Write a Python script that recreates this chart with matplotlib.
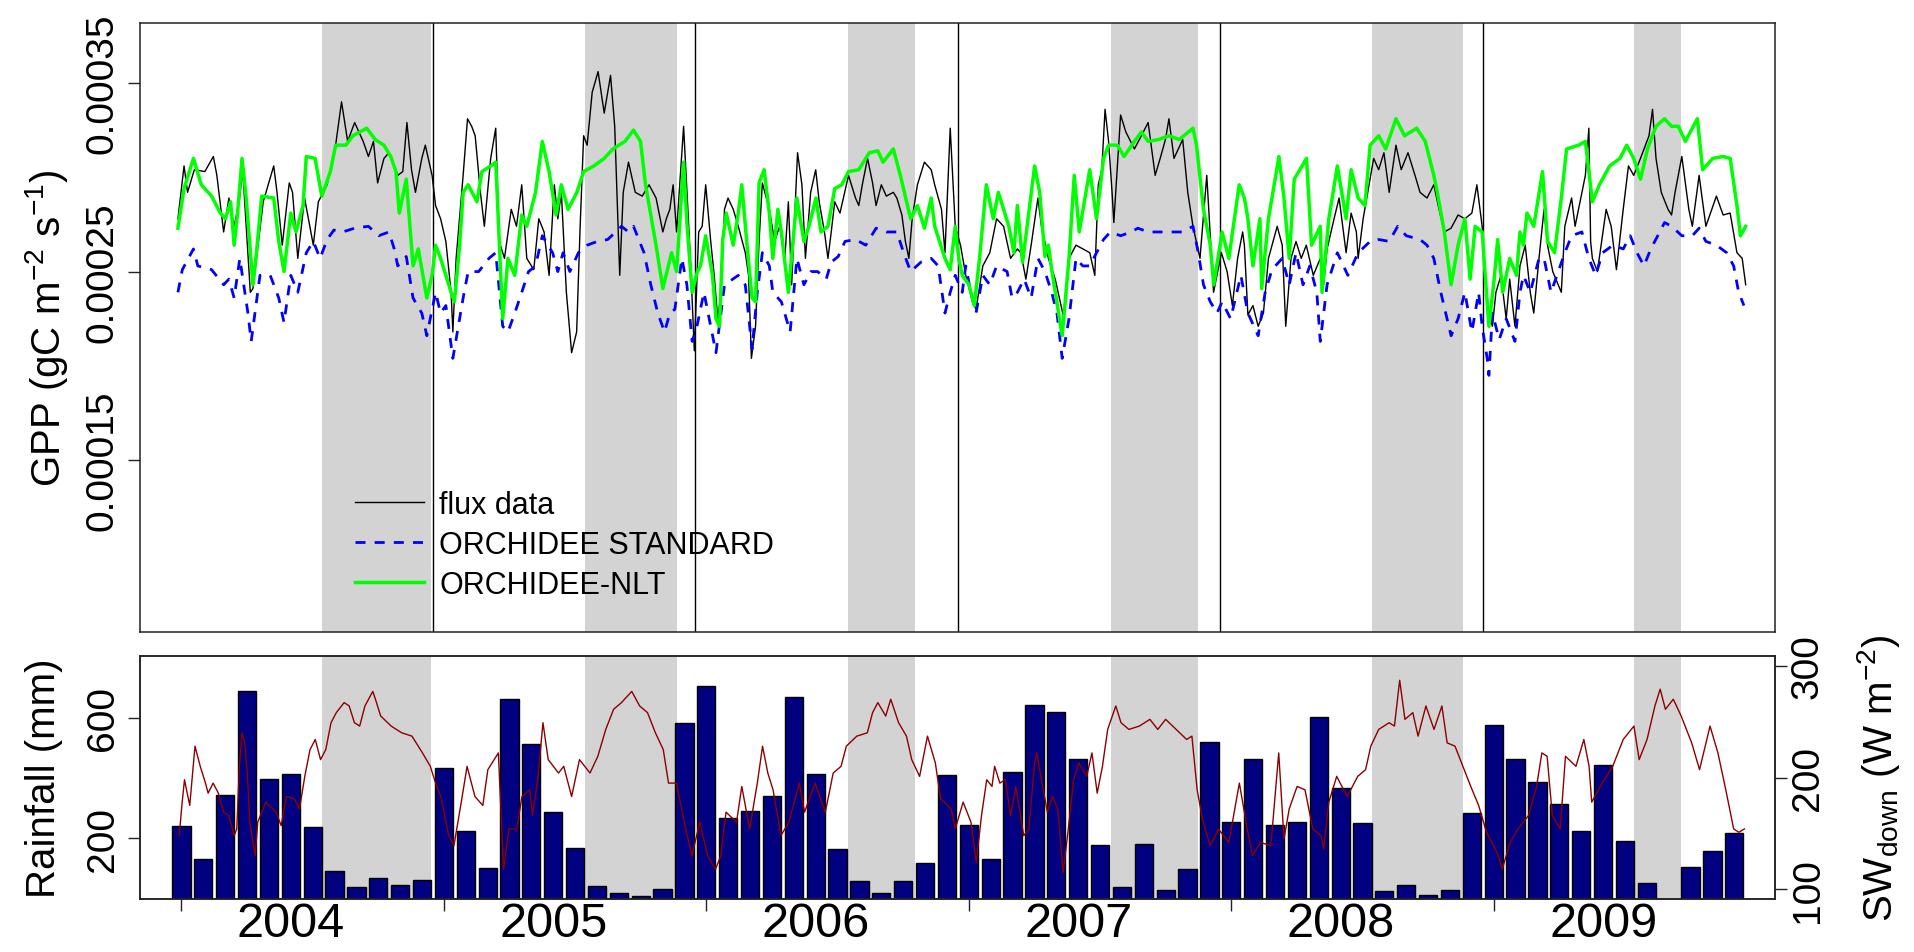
import numpy as np
import matplotlib
matplotlib.use('Agg')
import matplotlib.pyplot as plt
from matplotlib.lines import Line2D

plt.rcParams['font.family'] = ['Liberation Sans', 'DejaVu Sans']
plt.rcParams['mathtext.fontset'] = 'custom'
plt.rcParams['mathtext.rm'] = 'Liberation Sans'
plt.rcParams['mathtext.it'] = 'Liberation Sans:italic'
plt.rcParams['mathtext.bf'] = 'Liberation Sans:bold'

# ---------------- data ----------------
# time = months since 1 Jan 2004 (monthly bar i is centred on i+0.5)
# GPP values in units of 1e-4 gC m-2 s-1
flux_pts = [(0.34,2.78),(0.62,3.06),(0.78,2.92),(1.09,3.04),(1.57,3.03),(1.96,3.11),(2.12,3.01),(2.43,2.71),(2.67,2.89),(2.91,2.74),(3.14,2.87),(3.30,3.04),(3.65,2.39),(3.77,2.41),(3.93,2.57),(4.24,2.87),(4.72,3.06),(4.87,2.92),(5.11,2.64),(5.43,2.97),(5.58,2.92),(5.82,2.57),(6.13,2.89),(6.37,2.74),(6.53,2.64),(6.76,2.87),(7.16,2.96),(7.55,3.17),(7.82,3.40),(8.10,3.19),(8.42,3.29),(8.81,3.19),(9.05,3.11),(9.28,3.19),(9.47,2.97),(9.76,3.10),(9.99,3.13),(10.39,3.01),(10.62,3.03),(10.81,3.29),(11.02,3.04),(11.20,2.92),(11.49,3.10),(11.65,3.17),(11.96,3.01),
             (12.12,2.85),(12.35,2.78),(12.59,2.66),(12.83,2.39),(12.91,2.18),(13.06,2.57),(13.38,3.01),(13.58,3.31),(13.77,3.27),(13.93,3.22),(14.17,2.92),(14.35,2.74),(14.64,3.10),(14.87,3.26),(15.03,2.66),(15.27,2.57),(15.58,2.83),(15.82,2.74),(16.06,2.96),(16.29,2.57),(16.61,2.51),(16.84,2.78),(17.08,2.71),(17.31,2.48),(17.55,2.96),(17.71,2.78),(17.87,2.92),(18.10,2.39),(18.34,2.07),(18.57,2.18),(18.73,2.74),(18.89,3.22),(19.05,3.17),(19.28,3.45),(19.55,3.56),(19.83,3.34),(20.12,3.54),(20.31,3.27),(20.54,2.48),(20.70,2.92),(20.94,3.08),(21.25,2.92),(21.57,2.90),(21.88,2.96),(22.20,2.89),(22.51,2.71),(22.67,2.78),(22.83,2.83),(22.98,2.96),(23.14,2.71),(23.46,3.27),(23.77,2.57),(23.95,2.08),
             (24.15,2.71),(24.31,2.74),(24.47,2.96),(24.70,2.66),(24.86,2.48),(25.02,2.25),(25.17,2.39),(25.33,2.83),(25.49,2.89),(25.73,2.83),(25.96,2.74),(26.28,2.60),(26.43,2.48),(26.56,2.04),(26.75,2.21),(26.91,2.66),(27.06,2.97),(27.38,2.83),(27.62,2.66),(27.85,2.74),(28.09,2.57),(28.25,2.87),(28.40,2.43),(28.67,3.13),(28.87,2.96),(29.03,2.57),(29.27,2.92),(29.50,3.04),(29.66,2.87),(29.90,2.71),(30.06,2.57),(30.21,2.71),(30.37,2.87),(30.61,2.81),(31.00,3.01),(31.32,2.89),(31.47,2.85),(31.63,2.96),(31.87,3.10),(32.10,2.97),(32.26,2.85),(32.50,2.96),(32.73,2.90),(33.05,2.92),(33.21,2.89),(33.44,2.80),(33.60,2.66),(33.76,2.57),(33.91,2.78),(34.15,2.96),(34.47,3.08),(34.78,3.04),(34.94,2.96),(35.25,2.83),(35.41,2.60),(35.65,3.26),(35.88,2.74),
             (36.12,2.64),(36.36,2.48),(36.67,2.34),(36.83,2.30),(37.14,2.53),(37.46,2.60),(37.77,2.78),(38.09,2.74),(38.41,2.57),(38.72,2.62),(38.88,2.60),(39.11,2.46),(39.35,2.64),(39.66,2.89),(39.82,2.74),(40.14,2.57),(40.45,2.46),(40.85,2.25),(41.08,2.57),(41.40,2.64),(41.71,2.62),(42.03,2.60),(42.26,2.48),(42.42,2.96),(42.58,3.04),(42.73,3.36),(42.89,3.19),(43.05,2.92),(43.13,2.76),(43.44,3.33),(43.68,3.24),(44.07,3.15),(44.39,3.22),(44.70,3.29),(45.02,3.01),(45.25,3.10),(45.49,3.20),(45.65,3.31),(45.88,3.10),(46.28,3.20),(46.51,2.92),(46.75,2.74),(47.07,2.57),(47.38,3.01),(47.69,2.39),(48.05,2.60),
             (48.31,2.50),(48.55,2.32),(48.79,2.57),(49.02,2.71),(49.10,2.64),(49.26,2.27),(49.49,2.32),(49.73,2.21),(49.97,2.28),(50.20,2.57),(50.60,2.74),(50.83,2.64),(50.99,2.21),(51.23,2.57),(51.46,2.66),(51.70,2.57),(51.93,2.64),(52.25,2.48),(52.57,2.57),(52.72,2.43),(52.88,2.62),(53.20,2.78),(53.43,2.89),(53.75,2.60),(53.98,2.81),(54.22,2.71),(54.30,2.57),(54.53,2.78),(55.01,3.10),(55.24,3.04),(55.48,3.13),(55.72,2.92),(56.03,3.17),(56.27,3.04),(56.58,3.13),(56.90,3.01),(57.13,2.92),(57.45,2.89),(57.76,2.96),(58.00,2.83),(58.24,2.71),(58.55,2.73),(58.87,2.80),(59.18,2.78),(59.50,2.81),(59.73,2.96),(59.97,2.74),
             (60.20,2.30),(60.44,2.21),(60.60,2.39),(60.83,2.48),(61.07,2.25),(61.23,2.46),(61.47,2.21),(61.70,2.53),(61.94,2.64),(62.17,2.39),(62.33,2.28),(62.57,2.57),(62.80,2.83),(62.96,2.64),(63.20,2.50),(63.59,2.39),(63.75,2.74),(64.06,2.89),(64.22,2.74),(64.69,3.01),(64.85,3.26),(64.93,2.66),(65.01,2.57),(65.24,2.50),(65.64,2.83),(65.87,2.74),(66.11,2.51),(66.42,2.83),(66.66,3.06),(66.90,3.01),(67.21,3.10),(67.60,3.22),(67.76,3.36),(67.92,3.10),(68.16,2.92),(68.47,2.83),(68.63,2.80),(68.79,2.92),(69.10,3.11),(69.42,2.83),(69.58,2.74),(69.89,3.01),(70.20,2.74),(70.68,2.90),(70.99,2.80),(71.31,2.81),(71.62,2.60),(71.86,2.57),(72.02,2.43)]

standard_pts = [(0.34,2.39),(0.54,2.51),(1.05,2.62),(1.25,2.53),(1.88,2.51),(2.43,2.43),(2.67,2.46),(2.91,2.36),(3.17,2.57),(3.54,2.28),(3.69,2.13),(4.09,2.48),(4.56,2.48),(4.95,2.36),(5.19,2.23),(5.50,2.48),(5.82,2.39),(6.21,2.60),(6.53,2.66),(6.84,2.57),(7.16,2.67),(7.47,2.72),(7.87,2.71),(8.42,2.73),(9.05,2.74),(9.52,2.69),(9.99,2.71),(10.23,2.62),(10.39,2.53),(10.78,2.58),(11.09,2.36),(11.49,2.28),(11.72,2.16),
                (12.12,2.39),(12.35,2.28),(12.59,2.32),(12.91,2.04),(13.38,2.36),(13.61,2.50),(14.09,2.50),(14.56,2.57),(14.87,2.60),(15.19,2.21),(15.43,2.18),(15.74,2.28),(16.06,2.39),(16.37,2.50),(16.69,2.53),(17.00,2.69),(17.47,2.60),(17.71,2.50),(17.95,2.60),(18.26,2.50),(18.65,2.60),(19.05,2.64),(19.52,2.66),(19.99,2.67),(20.62,2.74),(20.94,2.71),(21.17,2.74),(21.65,2.60),(21.96,2.43),(22.28,2.28),(22.59,2.18),(22.83,2.28),(23.06,2.30),(23.38,2.57),(23.61,2.43),(23.85,2.13),
                (24.07,2.21),(24.39,2.39),(24.70,2.21),(24.94,2.07),(25.33,2.43),(25.96,2.48),(26.28,2.43),(26.59,2.09),(26.83,2.39),(27.06,2.60),(27.38,2.53),(27.54,2.39),(27.93,2.34),(28.33,2.18),(28.64,2.57),(28.96,2.43),(29.27,2.50),(29.59,2.50),(29.98,2.46),(30.21,2.55),(30.53,2.58),(30.84,2.66),(31.32,2.67),(31.79,2.64),(32.26,2.73),(32.73,2.71),(33.21,2.71),(33.52,2.60),(33.84,2.50),(34.31,2.55),(34.78,2.57),(35.10,2.53),(35.41,2.28),(35.65,2.39),(35.88,2.48),
                (36.20,2.39),(36.36,2.53),(36.59,2.39),(36.83,2.28),(37.14,2.48),(37.46,2.43),(37.77,2.53),(38.25,2.50),(38.48,2.36),(38.72,2.39),(39.03,2.46),(39.35,2.36),(39.66,2.57),(39.98,2.50),(40.29,2.39),(40.53,2.28),(40.77,2.04),(41.08,2.25),(41.40,2.57),(41.71,2.53),(42.03,2.53),(42.34,2.60),(42.66,2.67),(42.97,2.71),(43.44,2.69),(43.92,2.71),(44.23,2.73),(44.70,2.71),(45.33,2.71),(45.80,2.71),(46.28,2.71),(46.75,2.74),(46.99,2.60),(47.23,2.43),(47.54,2.34),(47.85,2.28),
                (48.08,2.34),(48.47,2.25),(48.94,2.48),(49.26,2.28),(49.73,2.16),(50.05,2.39),(50.36,2.51),(50.83,2.57),(51.15,2.43),(51.46,2.60),(51.78,2.43),(52.09,2.53),(52.41,2.39),(52.57,2.13),(52.88,2.43),(53.35,2.60),(53.83,2.48),(54.30,2.60),(54.85,2.66),(55.24,2.67),(55.72,2.66),(56.11,2.74),(56.50,2.69),(57.13,2.67),(57.45,2.64),(57.76,2.57),(58.08,2.39),(58.55,2.16),(58.87,2.25),(59.18,2.39),(59.50,2.18),(59.81,2.39),(59.97,2.21),
                (60.20,2.04),(60.28,1.95),(60.44,2.28),(60.75,2.14),(61.07,2.25),(61.47,2.13),(61.70,2.39),(61.86,2.48),(62.17,2.39),(62.57,2.57),(62.80,2.57),(63.12,2.39),(63.75,2.60),(64.06,2.69),(64.53,2.71),(64.85,2.57),(65.16,2.48),(65.48,2.60),(65.95,2.64),(66.42,2.62),(66.74,2.69),(67.05,2.60),(67.37,2.53),(67.68,2.62),(68.00,2.69),(68.31,2.76),(68.63,2.74),(69.10,2.69),(69.58,2.69),(69.89,2.73),(70.20,2.66),(70.68,2.64),(71.15,2.60),(71.47,2.53),(71.70,2.39),(71.94,2.32)]

nlt_pts = [(0.34,2.73),(0.62,2.94),(1.05,3.10),(1.41,2.96),(1.88,2.90),(2.28,2.81),(2.51,2.78),(2.75,2.87),(2.91,2.64),(3.06,2.80),(3.27,3.10),(3.46,2.89),(3.77,2.43),(3.93,2.60),(4.17,2.90),(4.72,2.89),(4.95,2.66),(5.19,2.50),(5.50,2.81),(5.74,2.71),(6.06,2.85),(6.21,3.11),(6.61,3.10),(6.92,2.90),(7.31,3.03),(7.55,3.17),(8.02,3.17),(8.34,3.22),(8.97,3.26),(9.36,3.20),(9.76,3.17),(10.07,3.11),(10.31,3.03),(10.46,2.81),(10.78,2.99),(11.09,2.53),(11.33,2.62),(11.72,2.36),(11.96,2.48),
           (12.12,2.64),(12.35,2.57),(12.83,2.39),(12.98,2.34),(13.22,2.64),(13.38,2.92),(13.61,2.96),(14.01,2.87),(14.24,3.03),(14.64,3.06),(14.87,3.08),(15.03,2.66),(15.19,2.25),(15.43,2.57),(15.74,2.48),(16.06,2.80),(16.29,2.74),(16.69,2.92),(17.00,3.19),(17.31,3.03),(17.63,2.80),(17.87,2.96),(18.18,2.83),(18.58,2.92),(18.89,3.03),(19.36,3.06),(19.83,3.10),(20.23,3.15),(20.78,3.19),(21.17,3.25),(21.49,3.19),(21.72,2.96),(22.20,2.64),(22.51,2.41),(22.91,2.60),(23.14,2.50),(23.46,3.08),(23.61,2.76),(23.85,2.39),
           (24.09,2.50),(24.23,2.53),(24.47,2.69),(24.78,2.48),(24.94,2.25),(25.10,2.21),(25.25,2.67),(25.41,2.81),(25.73,2.64),(25.96,2.81),(26.12,2.96),(26.36,2.64),(26.59,2.36),(26.75,2.34),(26.91,2.97),(27.14,3.04),(27.38,2.81),(27.54,2.57),(27.77,2.83),(27.93,2.71),(28.25,2.39),(28.64,2.89),(28.96,2.66),(29.19,2.74),(29.51,2.89),(29.74,2.71),(30.06,2.74),(30.37,2.94),(30.69,2.96),(31.00,3.03),(31.47,3.04),(31.95,3.13),(32.34,3.14),(32.58,3.08),(33.05,3.15),(33.37,3.01),(33.84,2.78),(34.15,2.85),(34.47,2.73),(34.78,2.89),(34.94,2.74),(35.41,2.57),(35.65,2.51),(35.88,2.74),
           (36.04,2.57),(36.20,2.48),(36.51,2.43),(36.75,2.32),(36.99,2.57),(37.30,2.96),(37.62,2.78),(37.85,2.92),(38.09,2.83),(38.33,2.74),(38.56,2.60),(38.72,2.85),(38.96,2.55),(39.51,3.06),(39.74,2.92),(39.98,2.58),(40.14,2.64),(40.29,2.51),(40.77,2.16),(41.08,2.57),(41.32,3.01),(41.55,2.71),(42.03,3.04),(42.34,2.78),(42.66,3.10),(42.89,3.17),(43.29,3.17),(43.60,3.11),(44.07,3.19),(44.39,3.24),(44.70,3.19),(45.17,3.20),(45.65,3.22),(46.12,3.20),(46.75,3.26),(46.91,3.17),(47.23,2.83),(47.54,2.64),(47.70,2.43),
           (48.08,2.71),(48.39,2.57),(48.86,2.96),(49.10,2.89),(49.26,2.78),(49.49,2.53),(49.81,2.78),(49.89,2.41),(50.20,2.78),(50.68,3.11),(50.91,2.89),(51.15,2.57),(51.38,2.99),(51.94,3.10),(52.17,2.64),(52.57,2.74),(52.65,2.39),(52.96,2.78),(53.35,3.06),(53.75,2.78),(53.98,3.04),(54.30,2.89),(54.61,2.85),(54.85,3.17),(55.24,3.22),(55.56,3.15),(56.03,3.31),(56.42,3.22),(56.98,3.26),(57.37,3.19),(57.76,3.01),(57.92,2.92),(58.24,2.71),(58.55,2.43),(58.87,2.64),(59.18,2.78),(59.42,2.46),(59.65,2.74),(59.97,2.71),
           (60.28,2.21),(60.52,2.46),(60.68,2.67),(60.91,2.39),(61.23,2.57),(61.54,2.48),(61.70,2.71),(61.86,2.64),(62.02,2.81),(62.33,2.74),(62.73,3.03),(62.96,2.66),(63.28,2.60),(63.59,2.89),(63.83,3.15),(64.38,3.17),(64.69,3.19),(65.01,2.87),(65.33,2.96),(65.80,3.06),(66.27,3.10),(66.58,3.17),(66.90,3.10),(67.21,2.99),(67.53,3.15),(67.92,3.27),(68.31,3.31),(68.63,3.27),(68.94,3.27),(69.26,3.19),(69.81,3.31),(70.05,3.04),(70.52,3.10),(70.99,3.11),(71.31,3.10),(71.62,2.85),(71.78,2.69),(72.02,2.74)]

# shortwave downward radiation (W m-2)
sw_pts = [(0.40,148),(0.52,175),(0.64,198),(0.88,175),(1.12,228),(1.36,210),(1.60,195),(1.72,186),(1.95,195),(2.19,186),(2.43,169),(2.67,166),(2.91,148),(3.03,154),(3.15,210),(3.27,240),(3.39,231),(3.51,204),(3.63,160),(3.87,130),(3.99,160),(4.35,178),(4.83,169),(5.06,157),(5.30,183),(5.66,181),(5.90,172),(6.14,201),(6.38,225),(6.62,234),(6.86,216),(7.10,225),(7.34,249),(7.58,258),(7.94,267),(8.17,264),(8.41,249),(8.65,246),(8.89,264),(9.25,277),(9.37,270),(9.61,255),(10.09,246),(10.57,240),(11.04,237),(11.52,222),(11.88,210),
          (12.12,195),(12.36,183),(12.72,148),(12.96,139),(13.32,181),(13.56,210),(13.92,183),(14.28,175),(14.51,207),(14.99,222),(15.23,118),(15.47,154),(15.83,154),(16.07,183),(16.43,189),(16.55,166),(16.79,198),(17.03,249),(17.27,216),(17.74,204),(17.98,210),(18.34,183),(18.70,216),(19.18,204),(19.54,219),(19.90,243),(20.26,261),(20.62,267),(21.09,277),(21.45,264),(21.81,258),(22.17,240),(22.53,225),(22.77,195),(23.13,195),(23.49,160),(23.84,130),
          (24.20,160),(24.56,130),(24.92,118),(25.16,130),(25.40,169),(25.88,160),(26.12,192),(26.48,154),(26.83,195),(27.07,228),(27.31,204),(27.55,189),(27.91,148),(28.27,160),(28.75,195),(28.99,169),(29.47,195),(29.94,169),(30.30,204),(30.66,210),(30.90,228),(31.38,237),(31.86,240),(32.10,258),(32.34,267),(32.70,255),(32.93,270),(33.29,249),(33.65,237),(33.89,216),(34.25,201),(34.61,237),(34.97,213),(35.21,181),(35.69,172),
          (35.88,154),(36.24,178),(36.60,160),(36.84,124),(37.08,166),(37.32,198),(37.56,192),(37.68,210),(37.92,195),(38.17,198),(38.41,166),(38.65,192),(39.01,148),(39.25,154),(39.49,210),(39.61,222),(39.85,195),(40.09,169),(40.33,183),(40.57,172),(40.81,115),(41.05,154),(41.29,198),(41.53,213),(41.89,201),(42.13,222),(42.37,186),(42.61,210),(42.85,243),(43.22,264),(43.46,249),(43.82,243),(44.30,246),(44.78,252),(45.14,243),(45.50,252),(45.98,243),(46.46,234),(46.70,237),(46.94,189),(47.18,163),(47.54,139),(47.91,154),
          (48.39,142),(48.87,195),(49.23,154),(49.47,130),(49.83,142),(50.31,139),(50.67,222),(50.91,145),(51.15,172),(51.51,192),(51.87,189),(52.23,154),(52.60,148),(52.72,136),(52.96,178),(53.32,201),(53.80,183),(54.28,201),(54.64,207),(54.88,228),(55.24,243),(55.72,249),(55.96,246),(56.20,287),(56.44,252),(56.80,258),(57.04,237),(57.40,264),(57.77,243),(58.13,264),(58.37,231),(58.73,228),(59.09,210),(59.45,192),(59.81,175),
          (60.17,151),(60.65,133),(60.89,118),(61.25,142),(61.61,154),(62.09,166),(62.46,192),(62.70,222),(62.94,219),(63.18,166),(63.54,154),(63.78,219),(64.26,210),(64.62,234),(64.86,210),(64.98,178),(65.46,195),(65.94,210),(66.42,234),(66.91,246),(67.15,216),(67.51,234),(67.87,264),(68.11,279),(68.35,261),(68.71,270),(69.07,255),(69.55,231),(69.91,207),(70.39,246),(70.75,222),(71.11,189),(71.47,154),(71.71,151),(71.96,154)]

# monthly rainfall (mm), Jan 2004 - Dec 2009 (Sep 2009 missing)
rain_mm = [241, 132, 344, 689, 395, 412, 237, 92, 38, 68, 46, 63,
           432, 225, 101, 663, 514, 288, 169, 42, 20, 9, 33, 581,
           704, 267, 289, 340, 667, 412, 166, 58, 20, 58, 119, 409,
           245, 132, 421, 642, 617, 463, 178, 37, 181, 29, 98, 518,
           255, 463, 245, 255, 603, 365, 251, 25, 46, 12, 29, 285,
           574, 462, 387, 314, 225, 442, 192, 51, np.nan, 106, 157, 216]

years = ['2004', '2005', '2006', '2007', '2008', '2009']
dry_seasons = [(6.95, 11.93), (18.93, 23.17), (30.99, 34.03),
               (43.0, 47.0), (54.93, 59.08), (66.92, 69.08)]
year_breaks = [12, 24, 36, 48, 60]

# ---------------- figure ----------------
W, H = 1915, 953
fig = plt.figure(figsize=(W / 100, H / 100), dpi=100)

def ax_rect(x0, y0, x1, y1):
    return [x0 / W, 1 - y1 / H, (x1 - x0) / W, (y1 - y0) / H]

ax1 = fig.add_axes(ax_rect(140, 24.3, 1775, 633.3))
ax2 = fig.add_axes(ax_rect(140, 657.3, 1775, 899.6))

xlim = (-1.394, 73.36)
grey = '#D3D3D3'
frame_col = '#222222'

def split(pts, scale=1.0):
    tt, vv = zip(*pts)
    return np.array(tt), np.array(vv) * scale

# --- top panel
for a, b in dry_seasons:
    ax1.axvspan(a, b, color=grey, lw=0, zorder=0)
for xb in year_breaks:
    ax1.axvline(xb, color='black', lw=1.0, zorder=1)

tf, vf = split(flux_pts, 1e-4)
ts, vs = split(standard_pts, 1e-4)
tn, vn = split(nlt_pts, 1e-4)
ax1.plot(tf, vf, color='black', lw=1.0, zorder=3)
ax1.plot(ts, vs, color='#0000FF', lw=2.0, dashes=(3.6, 3.3), zorder=4)
ax1.plot(tn, vn, color='#00FF00', lw=2.5, zorder=5)

ax1.set_xlim(*xlim)
ax1.set_ylim(0.0000588, 0.0003816)
ax1.set_yticks([0.00015, 0.00025, 0.00035])
ax1.set_yticklabels(['0.00015', '0.00025', '0.00035'], rotation=90, va='center')
ax1.tick_params(axis='y', length=8.8, width=1.0, labelsize=28, pad=5, color=frame_col)
ax1.tick_params(axis='x', bottom=False, labelbottom=False)
for s in ax1.spines.values():
    s.set_linewidth(1.1)
    s.set_color(frame_col)

handles = [Line2D([], [], color='black', lw=1.0),
           Line2D([], [], color='#0000FF', lw=2.0, dashes=(3.6, 3.3)),
           Line2D([], [], color='#00FF00', lw=2.5)]
labels = ['flux data', 'ORCHIDEE STANDARD', 'ORCHIDEE-NLT']
ax1.legend(handles, labels, loc='center left', bbox_to_anchor=(0.1315, 0.1433),
           frameon=False, fontsize=22, handlelength=2.25, handletextpad=0.5,
           labelspacing=0.33, borderpad=0, borderaxespad=0)

# --- bottom panel
for a, b in dry_seasons:
    ax2.axvspan(a, b, color=grey, lw=0, zorder=0)
months = np.arange(len(rain_mm)) + 0.5
ax2.bar(months, rain_mm, width=0.833, color='#000080', edgecolor='black',
        linewidth=1.0, zorder=2)
ax2.set_xlim(*xlim)
ax2.set_ylim(0, 803)
ax2.set_yticks([200, 600])
ax2.set_yticklabels(['200', '600'], rotation=90, va='center')
ax2.tick_params(axis='y', length=8.8, width=1.0, labelsize=28, pad=5, color=frame_col)
ax2.set_xticks([12 * i + 0.5 for i in range(len(years))])
ax2.set_xticklabels([])
ax2.set_xticks([12 * i + 5.5 for i in range(len(years))], minor=True)
ax2.set_xticklabels(years, minor=True)
ax2.tick_params(axis='x', which='major', length=8.6, width=1.0, color=frame_col)
ax2.tick_params(axis='x', which='minor', length=0, labelsize=35, pad=2)
for s in ax2.spines.values():
    s.set_linewidth(1.1)
    s.set_color(frame_col)

ax3 = ax2.twinx()
tw, vw = split(sw_pts)
ax3.plot(tw, vw, color='#8B0000', lw=1.0, zorder=3)
ax3.set_xlim(*xlim)
ax3.set_ylim(91.7, 308.4)
ax3.set_yticks([100, 200, 300])
ax3.set_yticklabels(['100', '200', '300'], rotation=90, va='center')
ax3.tick_params(axis='y', length=8.8, width=1.0, labelsize=28, pad=2, color=frame_col)
for s in ax3.spines.values():
    s.set_linewidth(1.1)
    s.set_color(frame_col)

# axis titles
fig.text(47 / W, 1 - 328.5 / H, r'GPP (gC m$^{-2}$ s$^{-1}$)', rotation=90,
         ha='center', va='center', fontsize=29)
fig.text(44 / W, 1 - 778.5 / H, 'Rainfall (mm)', rotation=90,
         ha='center', va='center', fontsize=29)
fig.text(1879 / W, 1 - 778.5 / H, r'SW$_{\mathrm{down}}$ (W m$^{-2}$)', rotation=90,
         ha='center', va='center', fontsize=29)

fig.savefig('out.png', dpi=100)
